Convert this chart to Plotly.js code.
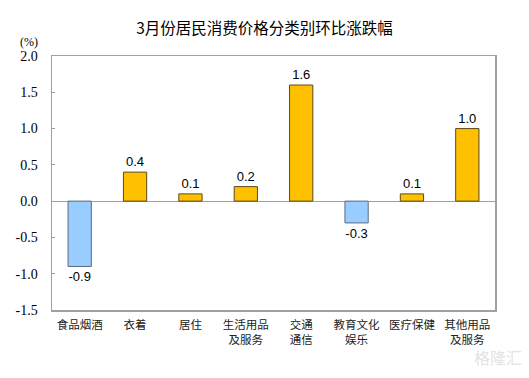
<!DOCTYPE html>
<html><head><meta charset="utf-8">
<script src="https://cdn.plot.ly/plotly-3.0.1.min.js"></script>
<style>body{margin:0;background:#fff}#c{width:529px;height:378px}</style>
</head><body><div id="c"></div>
<script>
const categories = ["食品烟酒", "衣着", "居住", "生活用品<br>及服务", "交通<br>通信", "教育文化<br>娱乐", "医疗保健", "其他用品<br>及服务"];
const values = [-0.9, 0.4, 0.1, 0.2, 1.6, -0.3, 0.1, 1.0];
const labels = ["-0.9", "0.4", "0.1", "0.2", "1.6", "-0.3", "0.1", "1.0"];
const yTicks = [-1.5, -1.0, -0.5, 0.0, 0.5, 1.0, 1.5, 2.0];
const yTickText = ["-1.5", "-1.0", "-0.5", "0.0", "0.5", "1.0", "1.5", "2.0"];

const colors = values.map(v => v >= 0 ? "#FFC000" : "#99CCFF");
const lineColors = values.map(v => v >= 0 ? "#5a4a1a" : "#5a6a80");

const trace = {
  type: "bar", x: categories, y: values,
  marker: {color: colors, line: {color: lineColors, width: 1}},
  width: 0.42,
  text: labels, textposition: "outside", cliponaxis: false,
  textfont: {family: "Liberation Sans, Arial", size: 13, color: "#000"},
  hoverinfo: "none"
};

const layout = {
  width: 529, height: 378,
  margin: {l: 52, r: 34, t: 56, b: 68},
  paper_bgcolor: "#fff", plot_bgcolor: "#fff",
  showlegend: false,
  bargap: 0.58,
  title: {text: "3月份居民消费价格分类别环比涨跌幅", x: 0.5, xanchor: "center", y: 0.925, yanchor: "middle",
    font: {family: "Noto Sans CJK SC", size: 15.5, color: "#000"}},
  xaxis: {
    showline: true, linecolor: "#a0a0a0", linewidth: 1.5, mirror: true,
    ticks: "", ticklabelstandoff: 4,
    tickfont: {family: "Noto Sans CJK SC", size: 11.5, color: "#222"},
    fixedrange: true
  },
  yaxis: {
    range: [-1.5, 2.0], tickvals: yTicks, ticktext: yTickText,
    showline: true, linecolor: "#a0a0a0", linewidth: 1.5, mirror: true,
    ticks: "inside", ticklen: 3, tickcolor: "#a0a0a0",
    ticklabelstandoff: 10,
    showgrid: false, zeroline: true, zerolinecolor: "#a0a0a0", zerolinewidth: 1,
    tickfont: {family: "Liberation Serif, Times New Roman", size: 14, color: "#000"},
    fixedrange: true
  },
  annotations: [
    {text: "(%)", xref: "paper", yref: "paper", x: -0.027, y: 1.055, xanchor: "right", yanchor: "middle",
     showarrow: false, font: {family: "Liberation Serif, Times New Roman", size: 12, color: "#000"}},
    {text: "格隆汇", xref: "paper", yref: "paper", x: 1.065, y: -0.24, xanchor: "right", yanchor: "bottom",
     showarrow: false, font: {family: "Noto Sans CJK SC", size: 16, color: "#e4e4e4"}}
  ]
};

Plotly.newPlot("c", [trace], layout, {displayModeBar: false, staticPlot: true});
</script></body></html>
